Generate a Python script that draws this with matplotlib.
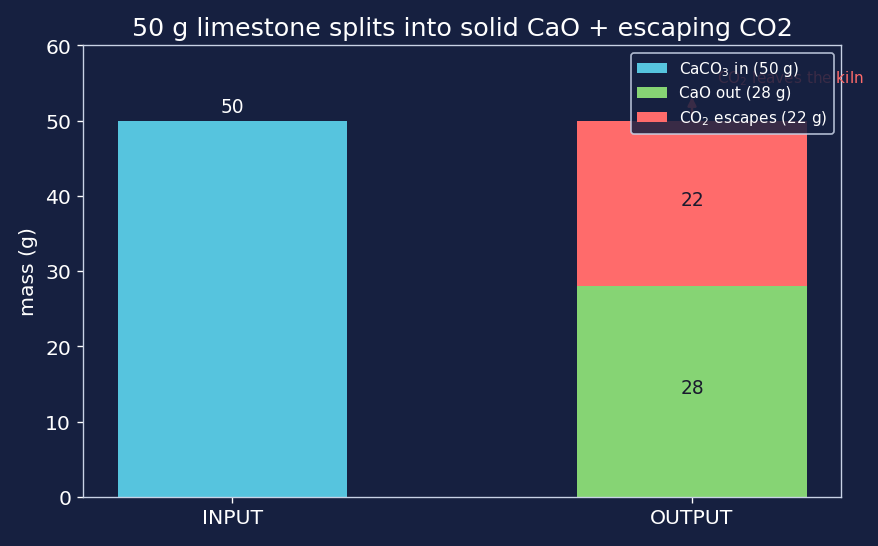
import matplotlib
matplotlib.use("Agg")
import matplotlib.pyplot as plt

categories = ["INPUT", "OUTPUT"]
caco3_in = [50, 0]
cao_out = [0, 28]
co2_out = [0, 22]
legend_labels = ["CaCO$_3$ in (50 g)", "CaO out (28 g)", "CO$_2$ escapes (22 g)"]

BG = "#162040"
FG = "#ffffff"
SP = "#c8d2e6"
C_IN = "#56c4de"
C_CAO = "#86d474"
C_CO2 = "#ff6b6b"

fig = plt.figure(figsize=(7.2, 4.48), dpi=122, facecolor=BG)
ax = fig.add_axes([83/878, 1-497/546, (841-83)/878, (497-46)/546])
ax.set_facecolor(BG)

x = list(range(len(categories)))
ax.bar(x[0], caco3_in[0], width=0.5, color=C_IN, label=legend_labels[0])
ax.bar(x[1], cao_out[1], width=0.5, color=C_CAO, label=legend_labels[1])
ax.bar(x[1], co2_out[1], width=0.5, bottom=cao_out[1], color=C_CO2, label=legend_labels[2])

ax.text(x[0], caco3_in[0] + 0.6, f"{caco3_in[0]}", ha="center", va="bottom", color=FG, fontsize=11)
ax.text(x[1], cao_out[1] / 2 + 0.5, f"{cao_out[1]}", ha="center", va="center", color="#1a1a2e", fontsize=11)
ax.text(x[1], cao_out[1] + co2_out[1] / 2 + 0.5, f"{co2_out[1]}", ha="center", va="center", color="#1a1a2e", fontsize=11)

ax.annotate("", xy=(x[1], 53.6), xytext=(x[1], cao_out[1] + co2_out[1]),
            arrowprops=dict(arrowstyle="-|>", color=C_CO2, lw=1.5))
ax.text(1.055, 55.7, "CO$_2$ leaves the kiln", ha="left", va="center", color=C_CO2, fontsize=9)

ax.set_ylim(0, 60)
ax.set_xticks(x)
ax.set_xticklabels(categories)
ax.set_ylabel("mass (g)", color=FG, fontsize=12)
ax.set_title("50 g limestone splits into solid CaO + escaping CO2", color=FG, fontsize=15)
ax.tick_params(colors=FG, labelsize=12)
for s in ax.spines.values():
    s.set_color(SP)

leg = ax.legend(loc="upper right", fontsize=9, facecolor=BG, edgecolor=SP, framealpha=0.85)
leg.set_zorder(5)
for t in leg.get_texts():
    t.set_color(FG)

fig.savefig("out.png", dpi=122, facecolor=BG)
